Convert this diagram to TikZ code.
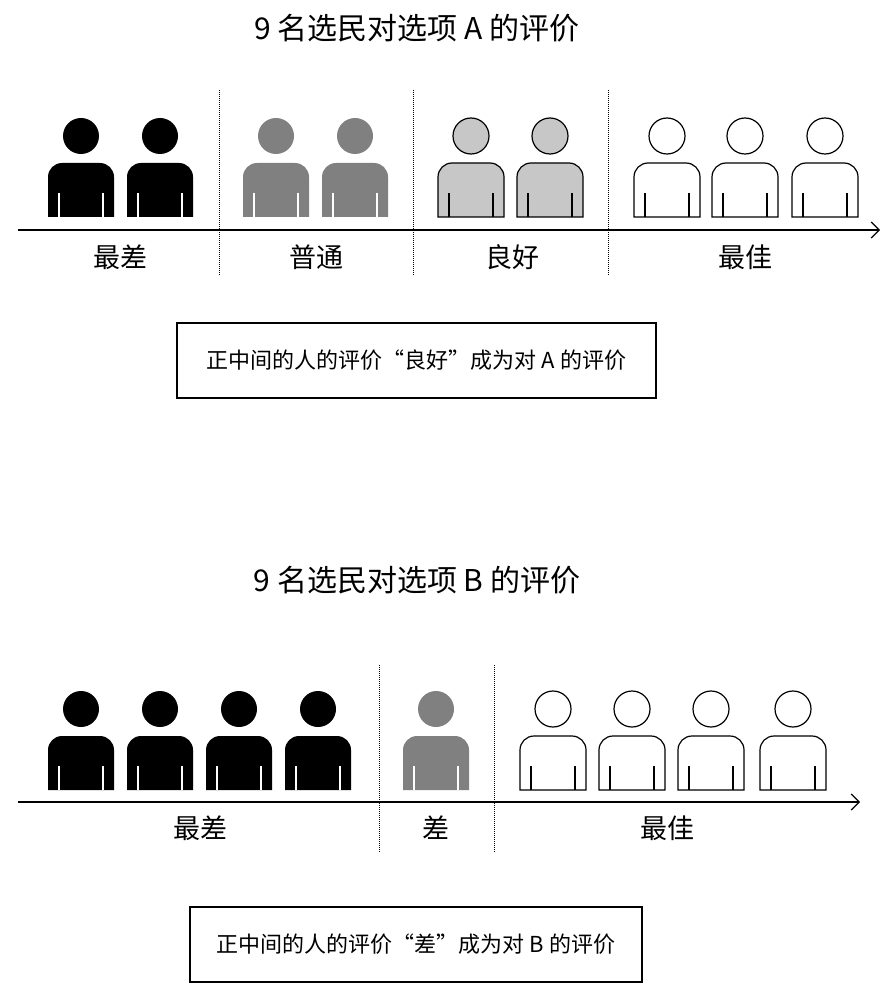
\documentclass[tikz,border=0pt]{standalone}
\usepackage{fontspec}
\setmainfont{Noto Sans CJK SC}
\usetikzlibrary{arrows.meta}
\tikzset{
  person/.pic={
    \path[pic actions] (0,-27) circle[radius=18];
    \path[pic actions] (-33,54) [rounded corners=14]-- (-33,0) -- (33,0) [sharp corners]-- (33,54) -- cycle;
    \draw[draw=\linecol, line width=1.6] (-22,54) -- (-22,30) (22,54) -- (22,30);
  },
  blackp/.style={fill=black, draw=none, /utils/exec=\def\linecol{white}},
  grayp/.style={fill=gray, draw=none, /utils/exec=\def\linecol{white}},
  lightp/.style={fill=black!22, draw=black, line width=1.2, /utils/exec=\def\linecol{black}},
  whitep/.style={fill=white, draw=black, line width=1.2, /utils/exec=\def\linecol{black}},
  axis/.style={line width=1.2, -{Straight Barb[length=8,width=16]}},
  divider/.style={densely dotted, line width=1},
  lab/.style={font=\fontsize{27}{30}\selectfont},
  ttl/.style={font=\fontsize{30}{34}\selectfont},
  box/.style={draw, line width=1.2, minimum height=75, font=\fontsize{22}{25}\selectfont}
}
\begin{document}
\begin{tikzpicture}[x=1pt,y=-1pt]
\useasboundingbox (0,0) rectangle (888,1000);
\node[ttl] (t1) at (417,28) {9 名选民对选项 A 的评价};
\foreach \x in {81,160} \pic[blackp] at (\x,163) {person};
\foreach \x in {276,355} \pic[grayp] at (\x,163) {person};
\foreach \x in {471,550} \pic[lightp] at (\x,163) {person};
\foreach \x in {667,745,825} \pic[whitep] at (\x,163) {person};
\coordinate (a1) at (18,230); \coordinate (a2) at (880,230);
\draw[axis] (a1) -- (a2);
\foreach \x in {219,413,608} \draw[divider] (\x,90) -- (\x,275);
\node[lab] (l1) at (120,257) {最差};
\node[lab] (l2) at (316,257) {普通};
\node[lab] (l3) at (512,257) {良好};
\node[lab] (l4) at (745,257) {最佳};
\node[box, minimum width=479] (b1) at (416.5,360.5) {正中间的人的评价“良好”成为对 A 的评价};

\node[ttl] (t2) at (417,580) {9 名选民对选项 B 的评价};
\foreach \x in {81,160,239,318} \pic[blackp] at (\x,736) {person};
\pic[grayp] at (436,736) {person};
\foreach \x in {553,632,711,793} \pic[whitep] at (\x,736) {person};
\coordinate (c1) at (18,802); \coordinate (c2) at (860,802);
\draw[axis] (c1) -- (c2);
\foreach \x in {379,494} \draw[divider] (\x,665) -- (\x,853);
\node[lab] (m1) at (200,828) {最差};
\node[lab] (m2) at (436,828) {差};
\node[lab] (m3) at (667,828) {最佳};
\node[box, minimum width=452] (b2) at (416,944.5) {正中间的人的评价“差”成为对 B 的评价};
\end{tikzpicture}
\end{document}
